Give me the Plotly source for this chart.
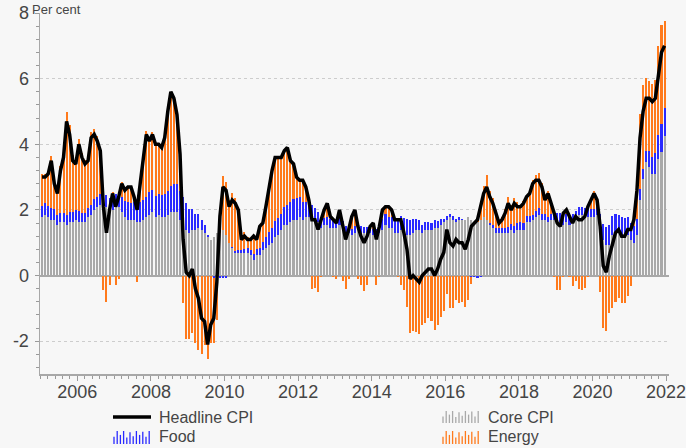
import plotly.graph_objects as go
import pandas as pd

# ---------------- data (US CPI, % y/y, contributions in percentage points) ----------------
start_month = "2005-01-01"

headline = [
    3.0, 3.0, 3.1, 3.5, 2.8, 2.5, 3.2, 3.6, 4.7, 4.3, 3.5, 3.4,      # 2005
    4.0, 3.6, 3.4, 3.5, 4.2, 4.3, 4.1, 3.8, 2.1, 1.3, 2.0, 2.5,      # 2006
    2.1, 2.4, 2.8, 2.6, 2.7, 2.7, 2.4, 2.0, 2.8, 3.5, 4.3, 4.1,      # 2007
    4.3, 4.0, 4.0, 3.9, 4.2, 5.0, 5.6, 5.4, 4.9, 3.7, 1.1, 0.1,      # 2008
    0.0, 0.2, -0.4, -0.7, -1.3, -1.4, -2.1, -1.5, -1.3, -0.2, 1.8, 2.7,  # 2009
    2.6, 2.1, 2.3, 2.2, 2.0, 1.1, 1.2, 1.1, 1.1, 1.2, 1.1, 1.5,      # 2010
    1.6, 2.1, 2.7, 3.2, 3.6, 3.6, 3.6, 3.8, 3.9, 3.5, 3.4, 3.0,      # 2011
    2.9, 2.9, 2.7, 2.3, 1.7, 1.7, 1.4, 1.7, 2.0, 2.2, 1.8, 1.7,      # 2012
    1.6, 2.0, 1.5, 1.1, 1.4, 1.8, 2.0, 1.5, 1.2, 1.0, 1.2, 1.5,      # 2013
    1.6, 1.1, 1.5, 2.0, 2.1, 2.1, 2.0, 1.7, 1.7, 1.7, 1.3, 0.8,      # 2014
    -0.1, 0.0, -0.1, -0.2, 0.0, 0.1, 0.2, 0.2, 0.0, 0.2, 0.5, 0.7,   # 2015
    1.4, 1.0, 0.9, 1.1, 1.0, 1.0, 0.8, 1.1, 1.5, 1.6, 1.7, 2.1,      # 2016
    2.5, 2.7, 2.4, 2.2, 1.9, 1.6, 1.7, 1.9, 2.2, 2.0, 2.2, 2.1,      # 2017
    2.1, 2.2, 2.4, 2.5, 2.8, 2.9, 2.9, 2.7, 2.3, 2.5, 2.2, 1.9,      # 2018
    1.6, 1.5, 1.9, 2.0, 1.8, 1.6, 1.8, 1.7, 1.7, 1.8, 2.1, 2.3,      # 2019
    2.5, 2.3, 1.5, 0.3, 0.1, 0.6, 1.0, 1.3, 1.4, 1.2, 1.2, 1.4,      # 2020
    1.4, 1.7, 2.6, 4.2, 5.0, 5.4, 5.4, 5.3, 5.4, 6.2, 6.8, 7.0,      # 2021
]

core = [
    1.77, 1.85, 1.77, 1.69, 1.69, 1.54, 1.62, 1.62, 1.54, 1.62, 1.62, 1.69,
    1.62, 1.62, 1.62, 1.77, 1.85, 2.00, 2.08, 2.16, 2.23, 2.08, 2.00, 2.00,
    2.08, 2.08, 1.93, 1.77, 1.69, 1.69, 1.69, 1.62, 1.62, 1.69, 1.77, 1.85,
    1.93, 1.77, 1.85, 1.77, 1.77, 1.85, 1.93, 1.93, 1.93, 1.69, 1.54, 1.39,
    1.31, 1.39, 1.39, 1.46, 1.39, 1.31, 1.16, 1.08, 1.16, 1.31, 1.31, 1.39,
    1.23, 1.00, 0.85, 0.69, 0.69, 0.69, 0.69, 0.69, 0.62, 0.46, 0.62, 0.62,
    0.77, 0.85, 0.92, 1.00, 1.16, 1.23, 1.39, 1.54, 1.54, 1.62, 1.69, 1.69,
    1.77, 1.69, 1.77, 1.77, 1.77, 1.69, 1.62, 1.46, 1.54, 1.54, 1.46, 1.46,
    1.46, 1.54, 1.46, 1.31, 1.31, 1.23, 1.31, 1.39, 1.31, 1.31, 1.31, 1.31,
    1.23, 1.23, 1.31, 1.39, 1.54, 1.46, 1.46, 1.31, 1.31, 1.39, 1.31, 1.23,
    1.23, 1.31, 1.39, 1.39, 1.31, 1.39, 1.39, 1.39, 1.46, 1.46, 1.54, 1.62,
    1.69, 1.77, 1.69, 1.62, 1.69, 1.69, 1.69, 1.77, 1.69, 1.62, 1.62, 1.69,
    1.77, 1.69, 1.54, 1.46, 1.31, 1.31, 1.31, 1.31, 1.31, 1.39, 1.31, 1.39,
    1.39, 1.39, 1.62, 1.62, 1.69, 1.77, 1.85, 1.69, 1.69, 1.62, 1.69, 1.69,
    1.69, 1.62, 1.54, 1.62, 1.54, 1.62, 1.69, 1.85, 1.85, 1.77, 1.77, 1.77,
    1.77, 1.85, 1.62, 1.08, 0.92, 0.92, 1.23, 1.31, 1.31, 1.23, 1.23, 1.23,
    1.08, 1.00, 1.23, 2.31, 2.93, 3.47, 3.31, 3.08, 3.08, 3.54, 3.77, 4.24,
]

food = [
    0.36, 0.36, 0.35, 0.36, 0.34, 0.31, 0.29, 0.29, 0.32, 0.31, 0.31, 0.32,
    0.34, 0.29, 0.29, 0.28, 0.31, 0.32, 0.31, 0.34, 0.36, 0.38, 0.35, 0.29,
    0.39, 0.45, 0.46, 0.50, 0.55, 0.52, 0.55, 0.57, 0.62, 0.62, 0.63, 0.69,
    0.67, 0.64, 0.62, 0.69, 0.71, 0.74, 0.81, 0.85, 0.87, 0.88, 0.85, 0.83,
    0.73, 0.64, 0.50, 0.41, 0.31, 0.22, 0.08, 0.00, -0.06, -0.08, -0.08, -0.07,
    -0.06, -0.01, 0.01, 0.06, 0.08, 0.10, 0.13, 0.14, 0.17, 0.20, 0.20, 0.21,
    0.25, 0.32, 0.41, 0.45, 0.49, 0.52, 0.50, 0.56, 0.62, 0.63, 0.64, 0.66,
    0.62, 0.55, 0.46, 0.43, 0.39, 0.38, 0.32, 0.28, 0.22, 0.24, 0.25, 0.25,
    0.22, 0.22, 0.21, 0.21, 0.20, 0.20, 0.20, 0.20, 0.20, 0.18, 0.17, 0.15,
    0.20, 0.20, 0.24, 0.32, 0.35, 0.32, 0.32, 0.39, 0.39, 0.42, 0.45, 0.48,
    0.45, 0.42, 0.32, 0.29, 0.24, 0.25, 0.24, 0.22, 0.22, 0.20, 0.18, 0.11,
    0.11, 0.11, 0.11, 0.11, 0.10, 0.04, 0.01, 0.00, -0.03, -0.04, -0.06, -0.03,
    -0.01, 0.00, 0.07, 0.07, 0.13, 0.13, 0.15, 0.15, 0.17, 0.18, 0.20, 0.22,
    0.24, 0.20, 0.18, 0.20, 0.17, 0.20, 0.20, 0.20, 0.20, 0.17, 0.20, 0.22,
    0.22, 0.28, 0.29, 0.25, 0.28, 0.27, 0.27, 0.24, 0.25, 0.29, 0.28, 0.25,
    0.25, 0.25, 0.27, 0.49, 0.56, 0.63, 0.57, 0.57, 0.55, 0.55, 0.52, 0.55,
    0.53, 0.50, 0.49, 0.34, 0.31, 0.34, 0.48, 0.52, 0.64, 0.74, 0.85, 0.88,
]

energy = [
    0.96, 0.87, 1.08, 1.60, 0.85, 0.72, 1.42, 1.86, 3.13, 2.65, 1.73, 1.53,
    2.20, 1.83, 1.61, 1.57, 2.20, 2.14, 1.85, 1.40, -0.45, -0.80, -0.30, 0.25,
    -0.30, -0.12, 0.45, 0.35, 0.50, 0.50, 0.17, -0.20, 0.60, 1.25, 2.00, 1.65,
    1.76, 1.60, 1.53, 1.42, 1.70, 2.35, 2.75, 2.50, 2.05, 1.05, -0.85, -1.92,
    -1.92, -1.74, -2.07, -2.26, -2.39, -2.11, -2.53, -2.07, -1.99, -1.28, 0.20, 1.64,
    1.63, 1.30, 1.65, 1.62, 1.24, 0.40, 0.50, 0.34, 0.34, 0.50, 0.43, 0.67,
    0.66, 0.95, 1.40, 1.71, 1.94, 1.81, 1.74, 1.66, 1.74, 1.28, 1.06, 0.59,
    0.51, 0.66, 0.47, 0.10, -0.42, -0.38, -0.50, -0.04, 0.24, 0.42, 0.09, -0.05,
    -0.10, 0.24, -0.17, -0.40, -0.11, 0.37, 0.49, -0.09, -0.30, -0.47, -0.28, 0.04,
    0.17, -0.30, -0.05, 0.29, 0.21, 0.32, 0.22, 0.00, -0.05, -0.30, -0.45, -0.95,
    -1.76, -1.70, -1.72, -1.78, -1.50, -1.45, -1.30, -1.38, -1.66, -1.50, -1.26, -1.08,
    -0.55, -1.00, -1.00, -0.75, -0.85, -0.80, -0.95, -0.75, -0.22, 0.02, 0.12, 0.47,
    0.97, 1.37, 0.98, 0.84, 0.56, 0.21, 0.31, 0.58, 0.91, 0.58, 0.85, 0.62,
    0.50, 0.69, 0.63, 0.71, 1.05, 1.08, 1.09, 0.92, 0.43, 0.80, 0.28, -0.03,
    -0.43, -0.45, -0.04, 0.15, -0.05, -0.31, -0.18, -0.40, -0.43, -0.38, -0.05, 0.31,
    0.56, 0.25, -0.51, -1.59, -1.70, -1.13, -1.00, -0.81, -0.69, -0.83, -0.85, -0.63,
    -0.32, 0.22, 1.19, 2.26, 2.57, 2.20, 2.14, 2.25, 2.23, 2.70, 3.00, 2.64,
]

year_ticks = [2006, 2008, 2010, 2012, 2014, 2016, 2018, 2020, 2022]
y_ticks = [-2, 0, 2, 4, 6, 8]
y_tick_text = ["-2", "0", "2", "4", "6", "8"]

# ---------------- styling ----------------
GRAY = "#a9a9a9"
BLUE = "#2a2aff"
ORANGE = "#ff7a1c"
TXT = "#454545"
BG = "#f7f7f7"
FONT = "Liberation Sans, Arial, sans-serif"

months = pd.date_range(start_month, periods=len(headline), freq="MS")
x = months.year + (months.month - 0.5) / 12.0

W, H = 698, 448
ML, MR, MT, MB = 40, 29, 13, 74
PW, PH = W - ML - MR, H - MT - MB


def px(v):
    return (v - ML) / PW


def py(v):
    return (H - MB - v) / PH


bw = 0.055
fig = go.Figure()
fig.add_bar(x=x, y=core, name="Core CPI", marker_color=GRAY, marker_line_width=0, width=bw)
fig.add_bar(x=x, y=food, name="Food", marker_color=BLUE, marker_line_width=0, width=bw)
fig.add_bar(x=x, y=energy, name="Energy", marker_color=ORANGE, marker_line_width=0, width=bw)
fig.add_scatter(x=x, y=headline, name="Headline CPI", mode="lines",
                line=dict(color="black", width=3.5))

shapes = []
annotations = []

# legend (drawn manually, 2x2 grid)
ROW1, ROW2 = 417, 437
shapes.append(dict(type="line", xref="paper", yref="paper",
                   x0=px(113), x1=px(151), y0=py(ROW1), y1=py(ROW1),
                   line=dict(color="black", width=3.5)))

pattern = [0.55, 1.0, 0.7, 1.0, 0.5, 0.9, 0.6, 1.0, 0.7, 0.95, 0.55, 1.0]


def bar_icon(x0, ybot, hmax, color):
    for k, f in enumerate(pattern):
        xx = x0 + 1 + k * 3.2
        shapes.append(dict(type="line", xref="paper", yref="paper",
                           x0=px(xx), x1=px(xx), y0=py(ybot), y1=py(ybot - hmax * f),
                           line=dict(color=color, width=1.3)))


bar_icon(113, ROW2 + 7, 13, BLUE)
bar_icon(442, ROW1 + 6, 12, GRAY)
bar_icon(442, ROW2 + 7, 13, ORANGE)

for label, lx, ly in [("Headline CPI", 158, ROW1), ("Food", 158, ROW2),
                      ("Core CPI", 487, ROW1), ("Energy", 487, ROW2)]:
    annotations.append(dict(text=label, xref="paper", yref="paper", x=px(lx), y=py(ly),
                            xanchor="left", yanchor="middle", showarrow=False,
                            borderpad=0,
                            font=dict(size=16, color=TXT, family=FONT)))

annotations.append(dict(text="Per cent", xref="paper", yref="paper", x=px(30), y=py(0),
                        xanchor="left", yanchor="top", showarrow=False,
                        font=dict(size=13, color=TXT, family=FONT)))

# white strip at far right of the picture
shapes.append(dict(type="rect", xref="paper", yref="paper", x0=px(686), x1=px(705),
                   y0=py(460), y1=py(-10), fillcolor="white", line=dict(width=0)))

fig.update_layout(
    width=W, height=H,
    margin=dict(l=ML, r=MR, t=MT, b=MB, autoexpand=False),
    paper_bgcolor=BG, plot_bgcolor=BG,
    barmode="relative", bargap=0,
    showlegend=False,
    font=dict(family=FONT, color=TXT),
    shapes=shapes, annotations=annotations,
    xaxis=dict(range=[2004.986, 2022.079], tickmode="array", tickvals=year_ticks,
               ticktext=[str(t) for t in year_ticks], automargin=False,
               ticks="outside", ticklen=5, tickcolor="#9a9a9a", tickwidth=1,
               showline=True, linecolor="#a8a8a8", linewidth=1.5,
               showgrid=False, zeroline=False,
               tickfont=dict(size=18, color=TXT), ticklabelstandoff=-4,
               minor=dict(dtick=0.2, tick0=2006, ticks="outside", ticklen=3,
                          tickcolor="#9a9a9a", showgrid=False)),
    yaxis=dict(range=[-3, 8], tickmode="array", tickvals=y_ticks, ticktext=y_tick_text,
               automargin=False,
               ticks="outside", ticklen=4, tickcolor="#9a9a9a", tickwidth=1,
               showline=True, linecolor="#a8a8a8", linewidth=1.5,
               showgrid=True, gridcolor="#cdcdcd", griddash="dot", gridwidth=1,
               zeroline=True, zerolinecolor="#a8a8a8", zerolinewidth=2,
               tickfont=dict(size=18, color=TXT), ticklabelstandoff=2,
               minor=dict(dtick=0.4, tick0=0, ticks="outside", ticklen=2.5,
                          tickcolor="#9a9a9a", showgrid=False)),
)

fig.write_html(
    "out.html",
    config={"displayModeBar": False, "staticPlot": True},
    post_script="document.body.style.margin='0';"
                "document.body.style.overflow='hidden';"
                "document.body.style.background='#f7f7f7';",
)
